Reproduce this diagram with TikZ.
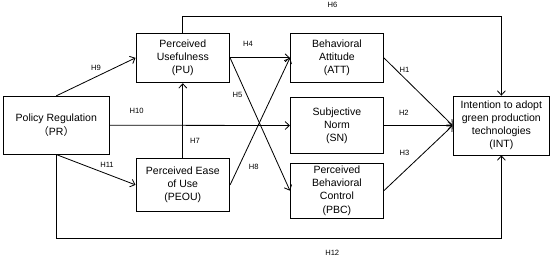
\documentclass[tikz,border=0pt]{standalone}
\usepackage{fontspec}
\setmainfont{Liberation Sans}
\newfontfamily\cjk{Noto Sans CJK SC}
\usetikzlibrary{arrows.meta,positioning}
\tikzset{
  box/.style={
    rectangle,
    draw=black,
    line width=0.7pt,
    align=center,
    inner sep=1pt,
    minimum width=2.82cm,
    minimum height=1.5cm,
    font=\fontsize{9}{11.2}\selectfont
  },
  lbl/.style={
    inner sep=0pt,
    font=\fontsize{6.5}{7}\selectfont
  },
  arrow/.style={-{Straight Barb[length=1.3mm,width=2.4mm]}, line width=0.7pt}
}

\begin{document}
\begin{tikzpicture}[node distance=0.8cm and 1.0cm]
    \node[box, minimum width=3.18cm, minimum height=1.74cm] (pr) {Policy Regulation\\{\cjk （}PR{\cjk ）}};
    \node[box, right=0.78cm of pr, yshift=2.025cm] (pu) {Perceived\\Usefulness\\(PU)};
    \node[box, minimum height=1.59cm, below=2.25cm of pu] (peou) {Perceived Ease\\of Use\\(PEOU)};
    \node[box, minimum width=2.8cm, right=1.8cm of pu] (att) {Behavioral\\Attitude\\(ATT)};
    \node[box, minimum width=2.8cm, minimum height=1.68cm, below=0.42cm of att] (sn) {Subjective\\Norm\\(SN)};
    \node[box, minimum width=2.8cm, minimum height=1.65cm, below=0.27cm of sn] (pbc) {Perceived\\Behavioral\\Control\\(PBC)};
    \node[box, minimum width=2.9cm, minimum height=1.77cm, right=2.07cm of sn] (int) {Intention to adopt\\green production\\technologies\\(INT)};

    \useasboundingbox ([shift={(-0.09cm,3.765cm)}]pr.west) rectangle ++(16.5cm,-7.71cm);

    \draw[arrow] (pr.north) -- node[lbl, above=5pt] {H9} (pu.west);
    \draw[arrow] (pr.south) -- node[lbl, pos=0.64, above=5pt] {H11} (peou.west);
    \draw[arrow] (pr.east) -- node[lbl, pos=0.15, above=9.6pt] {H10} (sn.west);
    \draw[arrow] (peou.north) -- node[lbl, pos=0.23, right=6pt] {H7} (pu.south);
    \draw[arrow] (pu.east) -- node[lbl, pos=0.3, above=9.6pt] {H4} (att.west);
    \draw[arrow] (pu.east) -- node[lbl, pos=0.28, left=3.5pt] {H5} (pbc.west);
    \draw[arrow] (peou.east) -- node[lbl, pos=0.14, right=8.6pt] {H8} (att.west);
    \draw[arrow] (att.east) -- node[lbl, pos=0.3, above=4.5pt] {H1} (int.west);
    \draw[arrow] (sn.east) -- node[lbl, pos=0.29, above=8pt] {H2} (int.west);
    \draw[arrow] (pbc.east) -- node[lbl, pos=0.3, above=13pt] {H3} (int.west);
    \draw[arrow] (pu.north) -- ++(0,0.48) -| node[lbl, pos=0.235, above=7pt] {H6} (int.north);
    \draw[arrow] (pr.south) -- ++(0,-2.52) -| node[lbl, pos=0.31, below=9.6pt] {H12} (int.south);
  \end{tikzpicture}
\end{document}
